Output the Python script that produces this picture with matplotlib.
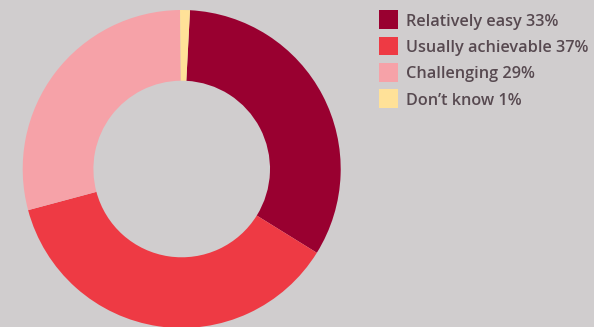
import matplotlib
matplotlib.use("Agg")
import matplotlib.pyplot as plt
import matplotlib.patches as mpatches

LABELS = ["Relatively easy", "Usually achievable", "Challenging", "Don\u2019t know"]
VALUES = [33, 37, 29, 1]
COLORS = ["#990030", "#EE3A44", "#F6A2A8", "#FFE198"]

BG = "#D0CDCE"
TEXT_COLOR = "#574950"

W, H = 594, 327
fig = plt.figure(figsize=(W / 100, H / 100), dpi=100)
fig.patch.set_facecolor(BG)

# donut: centre and radii in pixels
cx, cy, r_out, r_in = 181.7, 169, 159, 88.3
ax = fig.add_axes([(cx - r_out) / W, (H - cy - r_out) / H, 2 * r_out / W, 2 * r_out / H])
ax.set_facecolor(BG)
ax.pie(
    VALUES,
    colors=COLORS,
    startangle=87,
    counterclock=False,
    radius=1.0,
    wedgeprops=dict(width=1 - r_in / r_out, linewidth=0),
)
ax.set_xlim(-1, 1)
ax.set_ylim(-1, 1)
ax.set_aspect("equal")
ax.axis("off")

# legend, built by hand
box_x, box_w, box_h = 379, 18.5, 18.5
text_x = 406.5
row_y0, row_step = 19.5, 26.4
for i, (label, value, color) in enumerate(zip(LABELS, VALUES, COLORS)):
    yc = row_y0 + i * row_step
    fig.patches.append(
        mpatches.Rectangle(
            (box_x / W, (H - yc - box_h / 2) / H),
            box_w / W,
            box_h / H,
            transform=fig.transFigure,
            facecolor=color,
            edgecolor="none",
        )
    )
    fig.text(
        text_x / W,
        (H - yc) / H,
        f"{label} {value}%",
        ha="left",
        va="center_baseline",
        fontsize=11.7,
        fontweight="semibold",
        family="Open Sans",
        color=TEXT_COLOR,
    )

fig.savefig("out.png", dpi=100, facecolor=BG)
